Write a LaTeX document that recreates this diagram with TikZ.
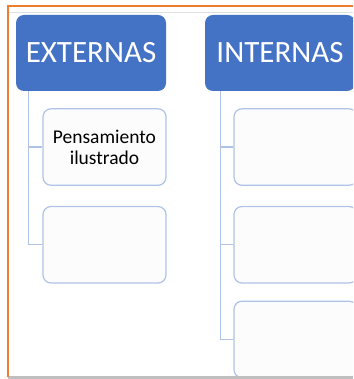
\documentclass[tikz,border=0pt]{standalone}
\usepackage{fontspec}
\setmainfont{Carlito}
\usetikzlibrary{positioning}
\definecolor{headblue}{HTML}{4472C4}
\definecolor{boxline}{HTML}{AFC3E6}
\definecolor{frameorange}{HTML}{ED7D31}

\begin{document}
\begin{tikzpicture}[x=1pt,y=1pt,
head/.style={fill=headblue,draw=none,rounded corners=8pt,minimum width=150pt,minimum height=76pt,text=white,font=\fontsize{31}{36}\selectfont},
    item/.style={fill=black!1,draw=boxline,line width=1.2pt,rounded corners=8pt,minimum width=123pt,minimum height=76.5pt,align=center,font=\fontsize{19.5}{21}\selectfont},
    link/.style={draw=boxline,line width=1.2pt}]
\useasboundingbox (0,0) rectangle (353,379);
\clip (0,0) rectangle (353,379);
\fill[white] (0,0) rectangle (353,379);
    \node[head] (ext) at (91,326) {EXTERNAS};
\node[head] (int) at (280,326) {INTERNAS};
\node[item] (e1) [below=17pt of ext, xshift=13.5pt] {Pensamiento\\ilustrado};
\node[item] (e2) [below=20pt of e1] {};
\node[item] (i1) [below=17pt of int, xshift=15.5pt] {};
\node[item] (i2) [below=20pt of i1] {};
\node[item] (i3) [below=17pt of i2] {};

\draw[link] ([xshift=13pt]ext.south west) |- (e1.west);
\draw[link] ([xshift=13pt]ext.south west) |- (e2.west);
\draw[link] ([xshift=16pt]int.south west) |- (i1.west);
\draw[link] ([xshift=16pt]int.south west) |- (i2.west);
\draw[link] ([xshift=16pt]int.south west) |- (i3.west);

% frame of the page
\draw[black!12, line width=1pt] (9,366) -- (353,366);
\draw[black!25, line width=2.5pt] (8,1.5) -- (353,1.5);
\draw[frameorange, line width=1.6pt] (353,373) -- (8,373) -- (8,2);
\end{tikzpicture}
\end{document}
